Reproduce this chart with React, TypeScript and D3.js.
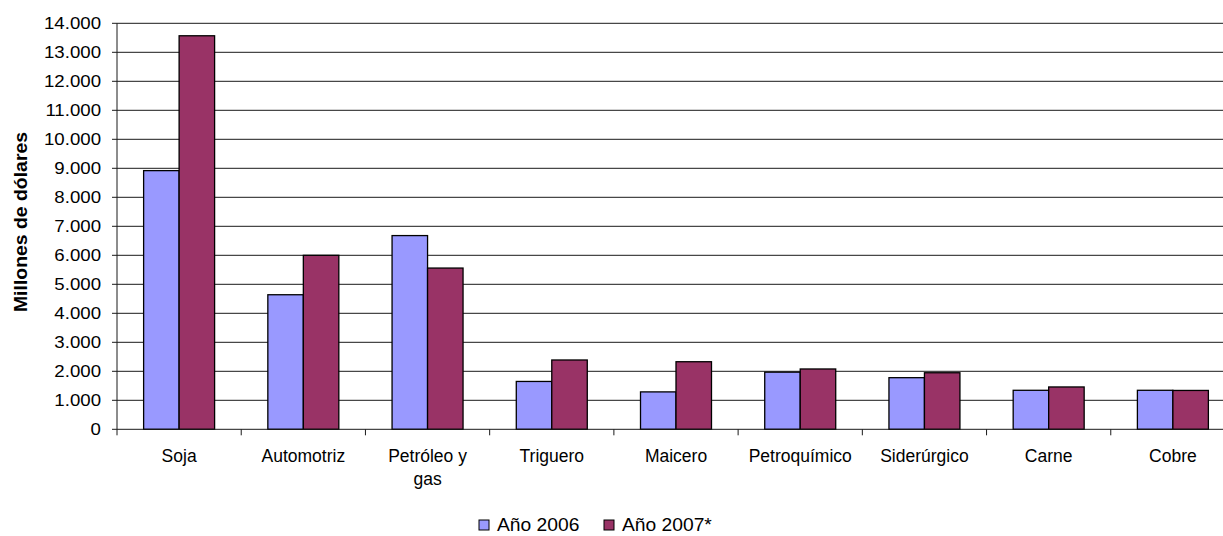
import React from "react";
import * as d3 from "d3";

const categories = ["Soja", "Automotriz", "Petróleo y\ngas", "Triguero", "Maicero", "Petroquímico", "Siderúrgico", "Carne", "Cobre"];
const series2006 = [8920, 4640, 6680, 1650, 1290, 1970, 1780, 1345, 1345];
const series2007 = [13570, 6000, 5560, 2390, 2330, 2080, 1950, 1460, 1340];
const seriesNames = ["Año 2006", "Año 2007*"];
const seriesColors = ["#9999FF", "#993366"];
const yTicks = d3.range(0, 14001, 1000);
const yTitle = "Millones de dólares";

const W = 1223;
const H = 536;
const left = 117;
const right = 1235;
const top = 23.3;
const bottom = 429.3;

const locale = d3.formatLocale({ decimal: ",", thousands: ".", grouping: [3], currency: ["", ""] });
const fmt = locale.format(",");

export default function App() {
  const x = d3.scaleBand<string>().domain(categories).range([left, right]).padding(0);
  const y = d3.scaleLinear().domain([0, 14000]).range([bottom, top]);
  const bw = x.bandwidth() / 3.5;
  const font = "Arial, 'Liberation Sans', sans-serif";
  const series = [series2006, series2007];
  return (
    <svg width={W} height={H} style={{ position: "absolute", left: 0, top: 0, background: "#fff" }} fontFamily={font}>
      {yTicks.map((t) => (
        <g key={t}>
          {t > 0 && <line x1={left} x2={right} y1={y(t)} y2={y(t)} stroke="#1a1a1a" strokeWidth={1} />}
          <line x1={left - 5} x2={left} y1={y(t)} y2={y(t)} stroke="#1a1a1a" strokeWidth={1} />
          <text transform={`translate(101,${y(t)}) scale(1.13,1)`} dy="0.35em" textAnchor="end" fontSize={16.5} fill="#000">
            {fmt(t)}
          </text>
        </g>
      ))}
      {categories.map((c, i) => {
        const cx = (x(c) as number) + x.bandwidth() / 2;
        return (
          <g key={c}>
            {series.map((s, k) => (
              <rect
                key={k}
                x={cx - bw + k * bw}
                y={y(s[i])}
                width={bw}
                height={bottom - y(s[i])}
                fill={seriesColors[k]}
                stroke="#000"
                strokeWidth={1.3}
              />
            ))}
            {c.split("\n").map((line, j) => (
              <text key={j} x={cx} y={462 + j * 22.5} textAnchor="middle" fontSize={17.5} fill="#000">
                {line}
              </text>
            ))}
          </g>
        );
      })}
      {d3.range(categories.length + 1).map((i) => {
        const xx = left + i * x.bandwidth();
        return <line key={i} x1={xx} x2={xx} y1={bottom} y2={bottom + 6} stroke="#1a1a1a" strokeWidth={1} />;
      })}
      <line x1={left} x2={left} y1={top} y2={bottom} stroke="#1a1a1a" strokeWidth={1} />
      <line x1={left} x2={right} y1={bottom} y2={bottom} stroke="#1a1a1a" strokeWidth={1} />
      <text
        transform={`translate(27,222) rotate(-90) scale(1.11,1)`}
        textAnchor="middle"
        fontSize={17.5}
        fontWeight="bold"
        fill="#000"
      >
        {yTitle}
      </text>
      {seriesNames.map((n, k) => {
        const lx = [479, 604][k];
        return (
          <g key={n}>
            <rect x={lx} y={520} width={10} height={10} fill={seriesColors[k]} stroke="#000" strokeWidth={1} />
            <text transform={`translate(${lx + 18},531) scale(1.1,1)`} fontSize={17.5} fill="#000">
              {n}
            </text>
          </g>
        );
      })}
    </svg>
  );
}
